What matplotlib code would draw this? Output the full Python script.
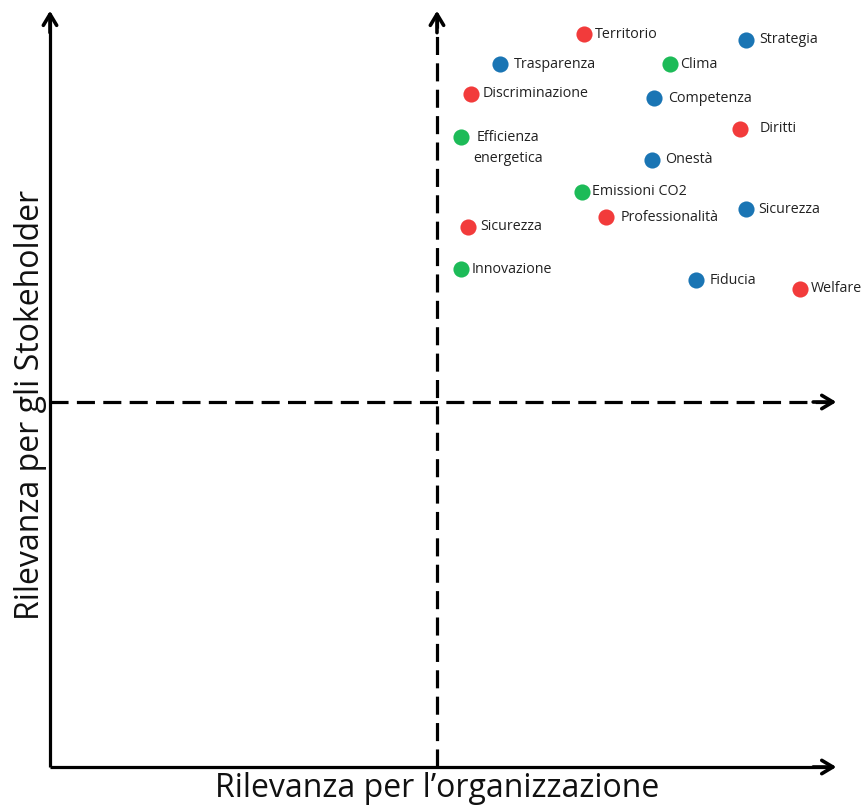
import matplotlib.pyplot as plt

plt.rcParams['font.family'] = ['Open Sans', 'DejaVu Sans']
plt.rcParams['lines.scale_dashes'] = False

# topics (0-10 scale, 5 = middle of each axis)
temi = ['Territorio', 'Strategia', 'Trasparenza', 'Clima', 'Discriminazione',
        'Competenza', 'Diritti', 'Efficienza\nenergetica', 'Onestà', 'Emissioni CO2',
        'Professionalità', 'Sicurezza', 'Sicurezza', 'Innovazione', 'Fiducia', 'Welfare']
rilevanza_org = [6.90, 8.99, 5.81, 8.01, 5.44, 7.80, 8.91, 5.31, 7.78, 6.87,
                 7.18, 8.99, 5.40, 5.31, 8.35, 9.69]
rilevanza_stk = [10.04, 9.96, 9.63, 9.63, 9.22, 9.16, 8.74, 8.63, 8.32, 7.88,
                 7.53, 7.64, 7.40, 6.82, 6.67, 6.55]
ambito = ['S', 'G', 'G', 'E', 'S', 'G', 'S', 'E', 'G', 'E',
          'S', 'G', 'S', 'E', 'G', 'S']

colori = {'S': '#f23b3b', 'G': '#1a75b4', 'E': '#1dbb58'}
# label offsets in pixels
offset = [(11, 0), (13, 0), (14, 0), (10, 0), (12, 0), (14, 0), (20, 0), (12, -11),
          (13, 0), (10, 0), (15, 0), (12, 0), (12, 0), (11, 0), (13, 0), (11, 0)]

fig = plt.figure(figsize=(8.64, 8.05), dpi=100)
ax = fig.add_axes([0, 0, 1, 1])
ax.set_xlim(-0.646, 10.517)
ax.set_ylim(-0.5205, 10.507)
ax.axis('off')

lw = 2.3
xmax, ymax = 10.16, 10.36
# solid axes
ax.plot([0, 0], [0, ymax - 0.1], color='black', lw=lw, solid_capstyle='butt')
ax.plot([0, xmax - 0.1], [0, 0], color='black', lw=lw, solid_capstyle='butt')
# dashed middle lines
ax.plot([5, 5], [0, ymax - 0.1], color='black', lw=lw, dashes=(13, 6))
ax.plot([0, xmax - 0.1], [5, 5], color='black', lw=lw, dashes=(13, 6))

head = dict(arrowstyle='->,head_length=0.4,head_width=0.24', lw=lw + 0.3, color='black',
            mutation_scale=20, shrinkA=0, shrinkB=0)
for end, start in [((0, ymax), (0, ymax - 0.3)), ((5, ymax), (5, ymax - 0.3)),
                   ((xmax, 0), (xmax - 0.3, 0)), ((xmax, 5), (xmax - 0.3, 5))]:
    ax.annotate('', xy=end, xytext=start, arrowprops=head)

for t, x, y, a, off in zip(temi, rilevanza_org, rilevanza_stk, ambito, offset):
    ax.scatter(x, y, s=135, color=colori[a], zorder=3, linewidths=0)
    ax.annotate(t, (x, y), xytext=off, textcoords='offset pixels', ha='left',
                va='center', fontsize=10.3, color='#222222', multialignment='center',
                linespacing=1.55)

fig.text(437 / 864, 1 - 788 / 805, 'Rilevanza per l\u2019organizzazione', ha='center',
         va='center', fontsize=23, color='#111111')
fig.text(31 / 864, 1 - 405 / 805, 'Rilevanza per gli Stokeholder', ha='center',
         va='center', rotation=90, fontsize=23, color='#111111')

fig.savefig('out.png', dpi=100)
